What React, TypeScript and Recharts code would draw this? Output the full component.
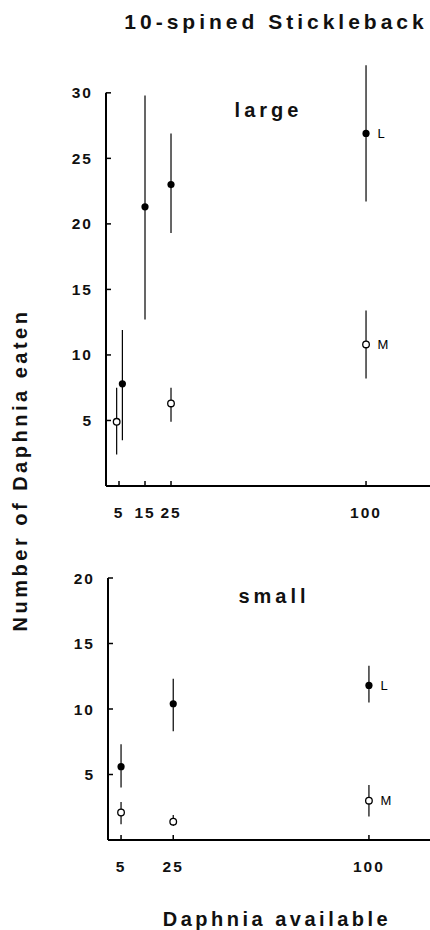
import React from 'react'
import {
  ErrorBar,
  LabelList,
  ReferenceLine,
  Scatter,
  ScatterChart,
  XAxis,
  YAxis,
} from 'recharts'

const FONT = '"Liberation Sans", Arial, Helvetica, sans-serif'

// large Daphnia: M = open circles, L = filled circles
const largeMX = [4.1, 25, 100]
const largeMY = [4.9, 6.3, 10.8]
const largeMLo = [2.4, 4.9, 8.2]
const largeMHi = [7.5, 7.5, 13.4]

const largeLX = [6.3, 15, 25, 100]
const largeLY = [7.8, 21.3, 23.0, 26.9]
const largeLLo = [3.5, 12.7, 19.3, 21.7]
const largeLHi = [11.9, 29.8, 26.9, 32.1]

// small Daphnia
const smallX = [5, 25, 100]
const smallLY = [5.6, 10.4, 11.8]
const smallLLo = [4.0, 8.3, 10.5]
const smallLHi = [7.3, 12.3, 13.3]
const smallMY = [2.1, 1.4, 3.0]
const smallMLo = [1.2, 1.06, 1.8]
const smallMHi = [2.9, 1.9, 4.2]

const largeXTicks = [5, 15, 25, 100]
const smallXTicks = [5, 25, 100]
const largeYTicks = [5, 10, 15, 20, 25, 30]
const smallYTicks = [5, 10, 15, 20]

// last point of each series carries the L / M tag
function rows(xs: number[], ys: number[], lo: number[], hi: number[], tag: string) {
  return xs.map((x, i) => ({
    x,
    y: ys[i],
    err: [ys[i] - lo[i], hi[i] - ys[i]],
    tag: i === xs.length - 1 ? tag : '',
  }))
}

const largeM = rows(largeMX, largeMY, largeMLo, largeMHi, 'M')
const largeL = rows(largeLX, largeLY, largeLLo, largeLHi, 'L')
const smallM = rows(smallX, smallMY, smallMLo, smallMHi, 'M')
const smallL = rows(smallX, smallLY, smallLLo, smallLHi, 'L')

const tickStyle = { fill: '#111', fontSize: 15.5, fontWeight: 'bold', fontFamily: FONT, letterSpacing: 2 }
const axisLine = { stroke: '#000', strokeWidth: 2 }
const tickLine = { stroke: '#000', strokeWidth: 1.5 }

const Filled = (p: any) => <circle cx={p.cx} cy={p.cy} r={3.6} fill="#000" />
const Open = (p: any) => (
  <circle cx={p.cx} cy={p.cy} r={3.3} fill="#fff" stroke="#000" strokeWidth={1.3} />
)

const Tag = (p: any) => {
  if (!p.value) return null
  const box = p.viewBox ?? p
  return (
    <text
      x={box.x + box.width + 7}
      y={box.y + box.height / 2}
      dy="0.36em"
      fill="#000"
      fontSize={13}
      fontFamily={FONT}
    >
      {p.value}
    </text>
  )
}

function Series({ data, filled }: { data: any[]; filled: boolean }) {
  return (
    <Scatter data={data} fill="#000" shape={filled ? Filled : Open} isAnimationActive={false}>
      <ErrorBar
        dataKey="err"
        direction="y"
        width={0}
        stroke="#000"
        strokeWidth={1.2}
        isAnimationActive={false}
      />
      <LabelList dataKey="tag" content={Tag} />
    </Scatter>
  )
}

export default function App() {
  const label = { fontFamily: FONT, fontWeight: 700, fill: '#111' }
  return (
    <div style={{ position: 'absolute', left: 0, top: 0, width: 430, height: 930, background: '#fff' }}>
      <div style={{ position: 'absolute', left: 0, top: 0 }}>
        <ScatterChart width={430} height={536} margin={{ top: 64, right: 0, bottom: 0, left: 0 }}>
          <XAxis
            type="number"
            dataKey="x"
            domain={[0, 124.6]}
            ticks={largeXTicks}
            interval={0}
            height={50}
            tickSize={-5}
            tickMargin={26}
            axisLine={axisLine}
            tickLine={tickLine}
            tick={tickStyle}
          />
          <YAxis
            type="number"
            dataKey="y"
            domain={[0, 32.2]}
            ticks={largeYTicks}
            interval={0}
            width={106}
            tickSize={-5}
            tickMargin={18}
            axisLine={false}
            tickLine={tickLine}
            tick={tickStyle}
          />
          <ReferenceLine segment={[{ x: 0, y: 0 }, { x: 0, y: 30 }]} stroke="#000" strokeWidth={2} />
          <Series data={largeM} filled={false} />
          <Series data={largeL} filled />
        </ScatterChart>
      </div>

      <div style={{ position: 'absolute', left: 0, top: 540 }}>
        <ScatterChart width={430} height={350} margin={{ top: 38, right: 0, bottom: 0, left: 0 }}>
          <XAxis
            type="number"
            dataKey="x"
            domain={[0, 123.4]}
            ticks={smallXTicks}
            interval={0}
            height={50}
            tickSize={-5}
            tickMargin={26}
            axisLine={axisLine}
            tickLine={tickLine}
            tick={tickStyle}
          />
          <YAxis
            type="number"
            dataKey="y"
            domain={[0, 20]}
            ticks={smallYTicks}
            interval={0}
            width={108}
            tickSize={-5}
            tickMargin={18}
            axisLine={axisLine}
            tickLine={tickLine}
            tick={tickStyle}
          />
          <Series data={smallM} filled={false} />
          <Series data={smallL} filled />
        </ScatterChart>
      </div>

      <svg
        width={430}
        height={930}
        style={{ position: 'absolute', left: 0, top: 0, pointerEvents: 'none' }}
      >
        <text x={276} y={29} textAnchor="middle" fontSize={21} letterSpacing={4} {...label}>
          10-spined Stickleback
        </text>
        <text x={268.5} y={117} textAnchor="middle" fontSize={20} letterSpacing={4} {...label}>
          large
        </text>
        <text x={274} y={603} textAnchor="middle" fontSize={20} letterSpacing={4} {...label}>
          small
        </text>
        <text
          transform="translate(27,470) rotate(-90)"
          textAnchor="middle"
          fontSize={20}
          letterSpacing={3.5}
          {...label}
        >
          Number of Daphnia eaten
        </text>
        <text x={277} y={926} textAnchor="middle" fontSize={20} letterSpacing={3.5} {...label}>
          Daphnia available
        </text>
      </svg>
    </div>
  )
}
